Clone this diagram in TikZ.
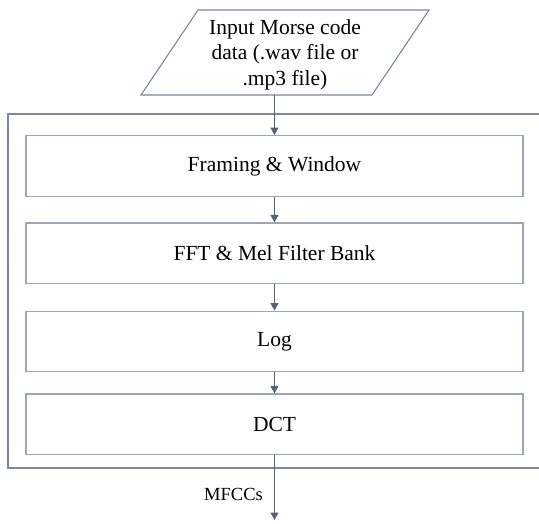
\documentclass[tikz,border=0pt]{standalone}
\usepackage{fontspec}
\setmainfont{Liberation Serif}
\usetikzlibrary{arrows.meta}
\definecolor{innerc}{HTML}{9EA6B4}
\definecolor{outerc}{HTML}{7C879B}
\definecolor{arrc}{HTML}{56627A}
\definecolor{parc}{HTML}{7A87A0}
\tikzset{
  stepbox/.style={draw=innerc, line width=1.3pt, minimum width=497pt, minimum height=60.5pt, inner sep=0pt, font=\fontsize{21.5}{25.5}\selectfont},
  arr/.style={draw=arrc, line width=1.1pt, -{Triangle[width=8pt,length=7.5pt]}},
}
\begin{document}
\begin{tikzpicture}[x=1pt,y=-1pt]
\useasboundingbox (0,0) rectangle (539,523);
% input parallelogram
\coordinate (pbl) at (141,95);
\coordinate (ptl) at (198,10);
\coordinate (ptr) at (429,10);
\coordinate (pbr) at (372,95);
\draw[draw=parc, line width=1.1pt, line join=miter] (pbl) -- (ptl) -- (ptr) -- (pbr) -- cycle;
\node[align=center, inner sep=0pt, font=\fontsize{21.5}{25.5}\selectfont] (inp) at (285,54.5)
      {Input Morse code\\data (.wav file or\\.mp3 file)};
% outer box (extends past right edge)
\draw[draw=outerc, line width=1.2pt] (560,114) -- (8,114) -- (8,468) -- (560,468);
% steps
\node[stepbox] (b1) at (274.5,166) {Framing \& Window};
\node[stepbox] (b2) at (274.5,253.3) {FFT \& Mel Filter Bank};
\node[stepbox] (b3) at (274.5,341.5) {Log};
\node[stepbox] (b4) at (274.5,424.3) {DCT};
\coordinate (pout) at (274.5,95);
\coordinate (out) at (274.5,520);
\draw[arr] (pout) -- (b1.north);
\draw[arr] (b1.south) -- (b2.north);
\draw[arr] (b2.south) -- (b3.north);
\draw[arr] (b3.south) -- (b4.north);
\draw[arr] (b4.south) -- (out);
\node[font=\fontsize{18.5}{22}\selectfont, anchor=east, inner sep=0pt] (lbl) at (263,494) {MFCCs};
\end{tikzpicture}
\end{document}
